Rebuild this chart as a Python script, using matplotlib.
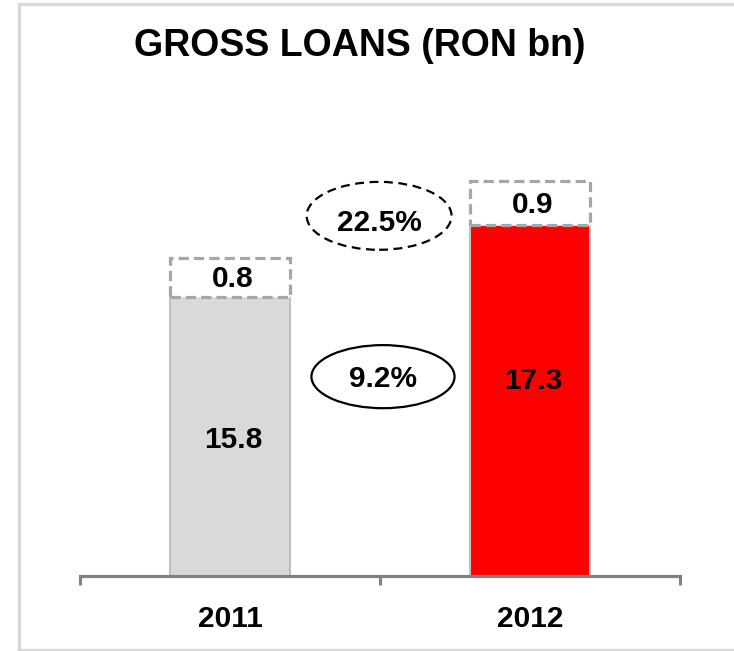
import numpy as np
import matplotlib
matplotlib.use("Agg")
import matplotlib.pyplot as plt
from matplotlib.patches import Ellipse
from matplotlib.lines import Line2D

plt.rcParams['font.family'] = ['Liberation Sans', 'DejaVu Sans']
plt.rcParams['font.weight'] = 'bold'

# data
years = ['2011', '2012']
base_values = [15.8, 17.3]
extra_values = [0.8, 0.9]
growth_labels = ['9.2%', '22.5%']
bar_colors = ['#d9d9d9', '#ff0000']

W, H = 734, 651
fig = plt.figure(figsize=(W / 100, H / 100), dpi=100)
fig.patch.set_facecolor('white')

# outer light frame (left, top and bottom edges; the right edge runs off the canvas)
fx0, fy0, fy1 = 19 / W, 1 - 649.5 / H, 1 - 4 / H
frame_kw = dict(transform=fig.transFigure, color='#d9d9d9', linewidth=2.4,
                solid_capstyle='projecting')
fig.add_artist(Line2D([fx0, fx0], [fy0, fy1], **frame_kw))
fig.add_artist(Line2D([fx0, 1.05], [fy1, fy1], **frame_kw))
fig.add_artist(Line2D([fx0, 1.05], [fy0, fy0], **frame_kw))

ax = fig.add_axes([80 / W, 75 / H, 600 / W, 481.5 / H])
ax.set_xlim(-0.5, 1.5)
ax.set_ylim(10, 20)
ax.set_facecolor('none')

x = np.arange(len(years))
bw = 0.4

ax.bar(x, base_values, width=bw, color=bar_colors, edgecolor='#c0c0c0',
       linewidth=1.5, zorder=2)
ax.bar(x, extra_values, bottom=base_values, width=bw, color='white',
       edgecolor='#a6a6a6', linewidth=2.3, linestyle=(0, (3.2, 1.6)), zorder=3)

fs = 21.5


def centered_label(xv, yv, text, size=fs):
    # place the visual centre of the digits on (xv, yv)
    ax.annotate(text, xy=(xv, yv), xytext=(0, -0.358 * size),
                textcoords='offset points', ha='center', va='baseline',
                fontsize=size, fontweight='bold', color='black', zorder=5)


for xi, b, e in zip(x, base_values, extra_values):
    centered_label(xi + 0.01, 0.815 * b, f"{b:.1f}")
    centered_label(xi + 0.01, b + e / 2 + 0.02, f"{e:.1f}")

# growth annotations
ell_solid = Ellipse((0.51, 14.14), 0.477, 1.31, fill=False, edgecolor='black',
                    linewidth=1.6, zorder=4)
ell_dash = Ellipse((0.497, 17.48), 0.483, 1.41, fill=False, edgecolor='black',
                   linewidth=1.6, linestyle=(0, (4, 2.5)), zorder=4)
ax.add_patch(ell_solid)
ax.add_patch(ell_dash)
centered_label(0.51, 14.14, growth_labels[0])
centered_label(0.497, 17.38, growth_labels[1])

# axes styling
for side in ['left', 'right', 'top']:
    ax.spines[side].set_visible(False)
ax.spines['bottom'].set_color('#808080')
ax.spines['bottom'].set_linewidth(2.3)
ax.set_yticks([])
ax.set_xticks(x)
ax.set_xticklabels(years, fontsize=fs, fontweight='bold')
ax.tick_params(axis='x', which='major', length=0, pad=21)
ax.set_xticks([-0.5, 0.5, 1.5], minor=True)
ax.tick_params(axis='x', which='minor', length=6.5, width=2.2, color='#808080')

fig.text(359.5 / W, 1 - 56 / H, 'GROSS LOANS (RON bn)', ha='center',
         va='baseline', fontsize=27, fontweight='bold', color='black')

fig.savefig('out.png', dpi=100, facecolor='white')
